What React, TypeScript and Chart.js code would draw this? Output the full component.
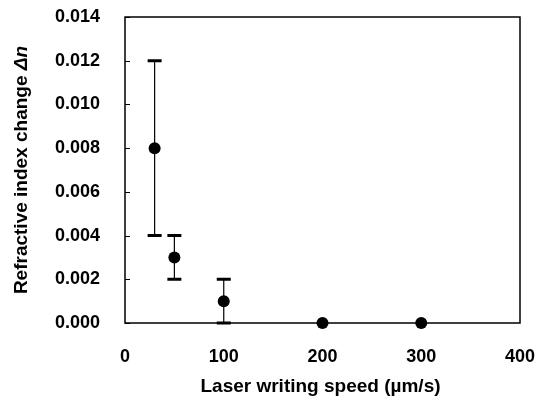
import React, { useEffect, useRef } from "react";
import { Chart, registerables } from "chart.js";

Chart.register(...registerables);

const speeds = [30, 50, 100, 200, 300];
const deltaN = [0.008, 0.003, 0.001, 0, 0];
const errMinus = [0.004, 0.001, 0.001, 0, 0];
const errPlus = [0.004, 0.001, 0.001, 0, 0];
const xTicks = [0, 100, 200, 300, 400];
const yTicks = [0, 0.002, 0.004, 0.006, 0.008, 0.01, 0.012, 0.014];
const xTitle = "Laser writing speed (µm/s)";
const yTitleMain = "Refractive index change ";
const yTitleSymbol = "Δn";

const FONT = "'Liberation Sans', Arial, sans-serif";

const decorPlugin = {
  id: "decor",
  beforeDatasetsDraw(chart: any) {
    const { ctx, chartArea, scales } = chart;
    const { left, right, top, bottom } = chartArea;
    ctx.save();
    ctx.strokeStyle = "#000";
    ctx.lineWidth = 1.5;
    ctx.strokeRect(left, top, right - left, bottom - top);
    ctx.lineWidth = 1;
    yTicks.forEach((v) => {
      const py = Math.round(scales.y.getPixelForValue(v)) + 0.5;
      ctx.beginPath();
      ctx.moveTo(left, py);
      ctx.lineTo(left + 5, py);
      ctx.stroke();
    });
    const xs = scales.x;
    const ys = scales.y;
    speeds.forEach((sx, i) => {
      if (!errMinus[i] && !errPlus[i]) return;
      const px = xs.getPixelForValue(sx);
      const pLo = ys.getPixelForValue(deltaN[i] - errMinus[i]);
      const pHi = ys.getPixelForValue(deltaN[i] + errPlus[i]);
      ctx.strokeStyle = "#000";
      ctx.lineWidth = 1.2;
      ctx.beginPath();
      ctx.moveTo(px, pLo);
      ctx.lineTo(px, pHi);
      ctx.stroke();
      ctx.lineWidth = 3;
      ctx.beginPath();
      ctx.moveTo(px - 7, pLo);
      ctx.lineTo(px + 7, pLo);
      ctx.moveTo(px - 7, pHi);
      ctx.lineTo(px + 7, pHi);
      ctx.stroke();
    });
    ctx.restore();
  },
  afterDraw(chart: any) {
    const { ctx, chartArea } = chart;
    const { left, right, top, bottom } = chartArea;
    ctx.save();
    ctx.fillStyle = "#000";
    ctx.font = `bold 19px ${FONT}`;
    ctx.textAlign = "center";
    ctx.textBaseline = "alphabetic";
    ctx.fillText(xTitle, (left + right) / 2 - 2, 392);
    const fMain = `bold 19px ${FONT}`;
    const fSym = `italic bold 19px ${FONT}`;
    ctx.font = fMain;
    const w1 = ctx.measureText(yTitleMain).width;
    ctx.font = fSym;
    const w2 = ctx.measureText(yTitleSymbol).width;
    const total = w1 + w2;
    ctx.translate(27, (top + bottom) / 2);
    ctx.rotate(-Math.PI / 2);
    ctx.textAlign = "left";
    ctx.font = fMain;
    ctx.fillText(yTitleMain, -total / 2, 0);
    ctx.font = fSym;
    ctx.fillText(yTitleSymbol, -total / 2 + w1, 0);
    ctx.restore();
  },
};

export default function App() {
  const ref = useRef<HTMLCanvasElement | null>(null);
  useEffect(() => {
    if (!ref.current) return;
    const chart = new Chart(ref.current, {
      type: "scatter",
      data: {
        datasets: [
          {
            data: speeds.map((x, i) => ({ x, y: deltaN[i] })),
            pointRadius: 6,
            pointHoverRadius: 6,
            pointBackgroundColor: "#000",
            pointBorderColor: "#000",
            pointBorderWidth: 0,
            showLine: false,
            clip: false as any,
          },
        ],
      },
      options: {
        responsive: false,
        animation: false,
        events: [],
        layout: { padding: { top: 17, right: 20, left: 0, bottom: 0 } },
        plugins: {
          legend: { display: false },
          tooltip: { enabled: false },
        },
        scales: {
          x: {
            type: "linear",
            min: 0,
            max: 400,
            afterBuildTicks: (s: any) => {
              s.ticks = xTicks.map((v) => ({ value: v }));
            },
            ticks: {
              color: "#000",
              font: { family: FONT, size: 18, weight: "bold" },
              padding: 23,
              maxRotation: 0,
            },
            grid: { display: false, drawTicks: false },
            border: { display: false },
            afterFit: (s: any) => {
              s.height = 76;
              s.paddingLeft = 0;
              s.paddingRight = 0;
              s.paddingTop = 0;
              s.paddingBottom = 0;
            },
          },
          y: {
            type: "linear",
            min: 0,
            max: 0.014,
            afterBuildTicks: (s: any) => {
              s.ticks = yTicks.map((v) => ({ value: v }));
            },
            ticks: {
              color: "#000",
              font: { family: FONT, size: 18, weight: "bold" },
              padding: 25,
              callback: (v: any) => Number(v).toFixed(3),
            },
            grid: { display: false, drawTicks: false },
            border: { display: false },
            afterFit: (s: any) => {
              s.width = 125;
              s.paddingLeft = 0;
              s.paddingRight = 0;
              s.paddingTop = 0;
              s.paddingBottom = 0;
            },
          },
        },
      },
      plugins: [decorPlugin],
    });
    return () => chart.destroy();
  }, []);
  return (
    <div style={{ position: "absolute", left: 0, top: 0, width: 540, height: 399, background: "#fff" }}>
      <canvas ref={ref} width={540} height={399} style={{ display: "block" }} />
    </div>
  );
}
